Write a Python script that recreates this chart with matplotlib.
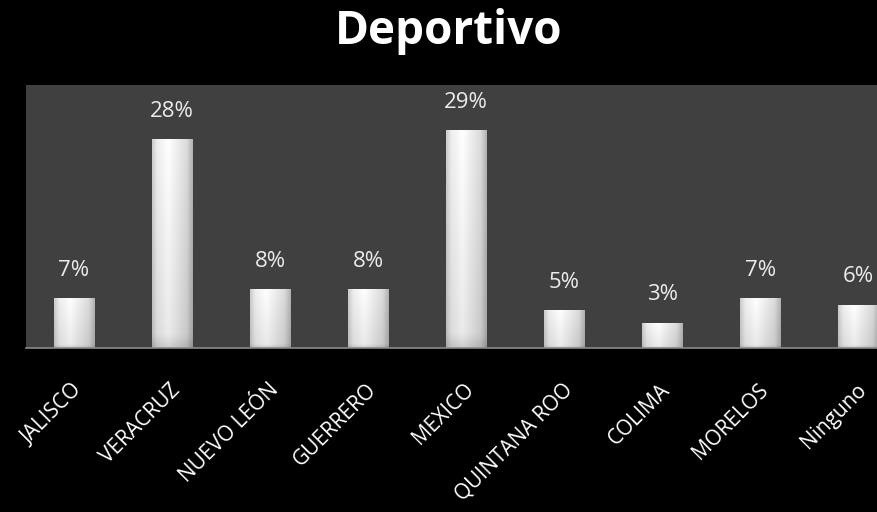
import numpy as np
import matplotlib.pyplot as plt
import matplotlib.transforms as mtransforms

plt.rcParams['font.family'] = ['Open Sans', 'DejaVu Sans']

# data (percent)
estados = ['JALISCO', 'VERACRUZ', 'NUEVO LEÓN', 'GUERRERO', 'MEXICO',
           'QUINTANA ROO', 'COLIMA', 'MORELOS', 'Ninguno']
porcentajes = [6.7, 28.0, 7.9, 7.9, 29.2, 5.1, 3.4, 6.7, 5.8]

fig = plt.figure(figsize=(8.78, 5.12), dpi=100)
fig.patch.set_facecolor('black')
ax = fig.add_axes([0.0296, 0.3203, 0.9704, 0.5137])
ax.set_facecolor('#404040')

x = np.arange(len(estados))
ancho = 0.41
bars = ax.bar(x, porcentajes, width=ancho, color='none', edgecolor='none', zorder=2)

# gradient fill for each bar (light center, grey edges)
h = np.linspace(0, 1, 60)
col = np.interp(h, [0, 0.12, 0.4, 0.85, 1.0], [0.80, 0.93, 1.0, 0.86, 0.70])
v = np.linspace(0, 1, 60)
row = np.interp(v, [0, 0.06, 1.0], [0.82, 0.92, 1.0])
grad = np.outer(row, col)
for b in bars:
    x0, y0 = b.get_x(), b.get_y()
    w, hh = b.get_width(), b.get_height()
    im = ax.imshow(grad, cmap='gray', vmin=0, vmax=1, origin='lower',
                   extent=(x0, x0 + w, y0, y0 + hh), aspect='auto', zorder=2)
    im.set_clip_path(b)

for xi, p in zip(x, porcentajes):
    ax.annotate(f'{p:.0f}%', (xi, p), xytext=(0, 20), textcoords='offset points',
                ha='center', va='center', color='#ececec', fontsize=16)

ax.set_xlim(-0.49, 8.2)
ax.set_ylim(0, 35.2)
ax.set_xticks(x)
ax.set_xticklabels(estados, rotation=45, ha='right', va='center',
                   rotation_mode='anchor', color='white', fontsize=15)
ax.tick_params(axis='x', length=0, pad=28)
shift = mtransforms.ScaledTranslation(5 / 100, 0, fig.dpi_scale_trans)
for lbl in ax.get_xticklabels():
    lbl.set_transform(lbl.get_transform() + shift)
ax.set_yticks([])
for s in ['top', 'left', 'right']:
    ax.spines[s].set_visible(False)
ax.spines['bottom'].set_color('#8a8a8a')
ax.spines['bottom'].set_linewidth(1.2)

fig.text(0.511, 0.938, 'Deportivo', ha='center', va='center', color='white',
         fontsize=33, fontweight='bold')

fig.savefig('out.png', dpi=100, facecolor='black')
